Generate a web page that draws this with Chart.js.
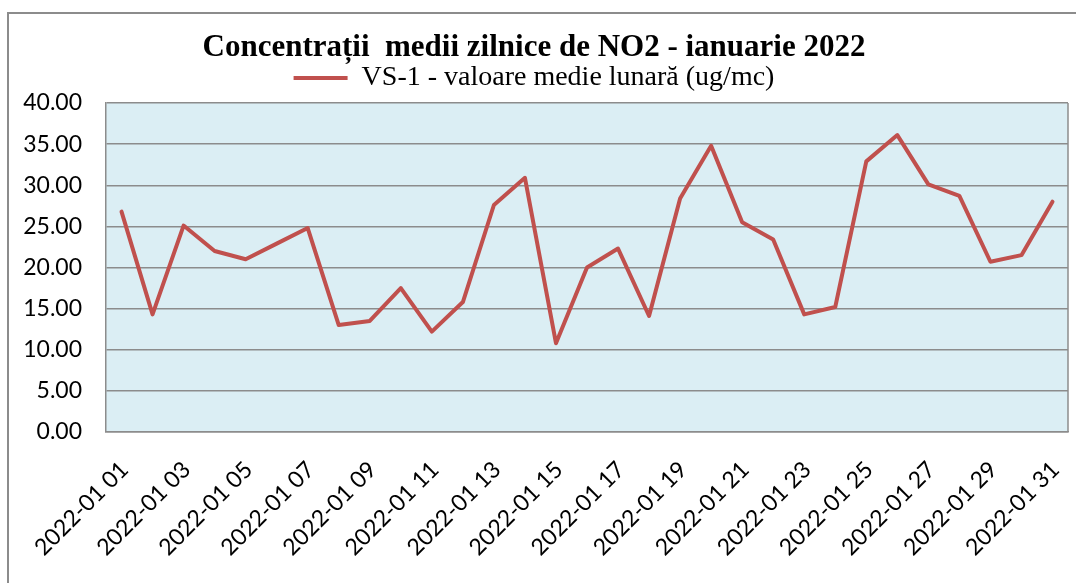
<!DOCTYPE html>
<html>
<head>
<meta charset="utf-8">
<script src="https://cdn.jsdelivr.net/npm/chart.js@4/dist/chart.umd.min.js"></script>
<style>
  html, body { margin: 0; padding: 0; background: #fff; overflow: hidden; }
  #wrap { position: relative; width: 1076px; height: 583px; }
  #frame { position: absolute; left: 7px; top: 12px; width: 1200px; height: 700px; border: 2px solid #8c8c8c; box-sizing: border-box; pointer-events: none; }
  canvas { position: absolute; left: 0; top: 0; }
</style>
</head>
<body>
<div id="wrap">
  <div id="frame"></div>
  <canvas id="c" width="1076" height="583"></canvas>
</div>
<script>
const categories = [
  "2022-01 01","2022-01 02","2022-01 03","2022-01 04","2022-01 05","2022-01 06","2022-01 07","2022-01 08",
  "2022-01 09","2022-01 10","2022-01 11","2022-01 12","2022-01 13","2022-01 14","2022-01 15","2022-01 16",
  "2022-01 17","2022-01 18","2022-01 19","2022-01 20","2022-01 21","2022-01 22","2022-01 23","2022-01 24",
  "2022-01 25","2022-01 26","2022-01 27","2022-01 28","2022-01 29","2022-01 30","2022-01 31"
];
const seriesValues = [
  26.8, 14.3, 25.1, 22.0, 21.0, 22.9, 24.8, 13.0, 13.5, 17.5, 12.2, 15.8, 27.6, 30.9, 10.8, 20.0,
  22.3, 14.1, 28.4, 34.8, 25.5, 23.4, 14.3, 15.2, 32.9, 36.1, 30.1, 28.7, 20.7, 21.5, 28.0
];
const seriesName = "VS-1 - valoare medie lunară (ug/mc)";
const chartTitle = "Concentrații  medii zilnice de NO2 - ianuarie 2022";
const yTicks = [0, 5, 10, 15, 20, 25, 30, 35, 40];

const plotBg = {
  id: 'plotBg',
  beforeDraw(chart) {
    const a = chart.chartArea, ctx = chart.ctx;
    ctx.save();
    ctx.fillStyle = '#DBEEF4';
    ctx.fillRect(a.left, a.top, a.right - a.left, a.bottom - a.top);
    ctx.restore();
  },
  afterDraw(chart) {
    const a = chart.chartArea, ctx = chart.ctx;
    ctx.save();
    ctx.strokeStyle = '#8c8c8c';
    ctx.lineWidth = 1.5;
    ctx.beginPath();
    ctx.moveTo(a.right, a.top);
    ctx.lineTo(a.right, a.bottom);
    ctx.stroke();
    ctx.restore();
  }
};

new Chart(document.getElementById('c'), {
  type: 'line',
  data: {
    labels: categories,
    datasets: [{
      label: seriesName,
      data: seriesValues,
      borderColor: '#C0504D',
      backgroundColor: '#C0504D',
      borderWidth: 4,
      tension: 0,
      pointRadius: 0,
      borderJoinStyle: 'round',
      borderCapStyle: 'round',
      fill: false
    }]
  },
  options: {
    responsive: false,
    animation: false,
    devicePixelRatio: 1,
    layout: { padding: { top: 26, left: 0, right: 8, bottom: 0 } },
    plugins: {
      title: {
        display: true,
        text: chartTitle,
        color: '#000',
        font: { family: 'Liberation Serif', size: 31, weight: 'bold', lineHeight: 1.0 },
        padding: { top: 6, bottom: 0 }
      },
      subtitle: {
        display: true,
        text: '',
        weight: 100,
        font: { size: 1, lineHeight: 1.0 },
        padding: { top: 0, bottom: 0 }
      },
      legend: {
        display: true,
        labels: {
          color: '#000',
          font: { family: 'Liberation Serif', size: 28 },
          boxWidth: 54,
          boxHeight: 4,
          padding: 1,
          generateLabels(chart) {
            const ds = chart.data.datasets[0];
            return [{ text: ds.label, fillStyle: ds.borderColor, strokeStyle: ds.borderColor, lineWidth: 0, datasetIndex: 0 }];
          }
        }
      },
      tooltip: { enabled: false }
    },
    scales: {
      x: {
        offset: true,
        grid: { display: false, drawTicks: false },
        border: { display: true, color: '#8c8c8c', width: 1.5 },
        ticks: {
          autoSkip: false,
          minRotation: 45,
          maxRotation: 45,
          padding: 24,
          labelOffset: 3,
          color: '#000',
          font: { family: 'Lato', size: 23 },
          callback(v, i) { return i % 2 === 0 ? categories[i] : ''; }
        },
        afterFit(scale) { scale.height = 151; scale.paddingLeft = 0; scale.paddingRight = 0; }
      },
      y: {
        min: 0,
        max: 40,
        afterBuildTicks(scale) { scale.ticks = yTicks.map(v => ({ value: v })); },
        grid: { color: '#8c8c8c', lineWidth: 1.5, drawTicks: false },
        border: { display: true, color: '#8c8c8c', width: 1.5 },
        ticks: {
          padding: 24,
          color: '#000',
          font: { family: 'Lato', size: 23 },
          callback(v) { return Number(v).toFixed(2); }
        },
        afterFit(scale) { scale.width = 106; scale.paddingTop = 0; scale.paddingBottom = 0; }
      }
    }
  },
  plugins: [plotBg]
});
</script>
</body>
</html>
